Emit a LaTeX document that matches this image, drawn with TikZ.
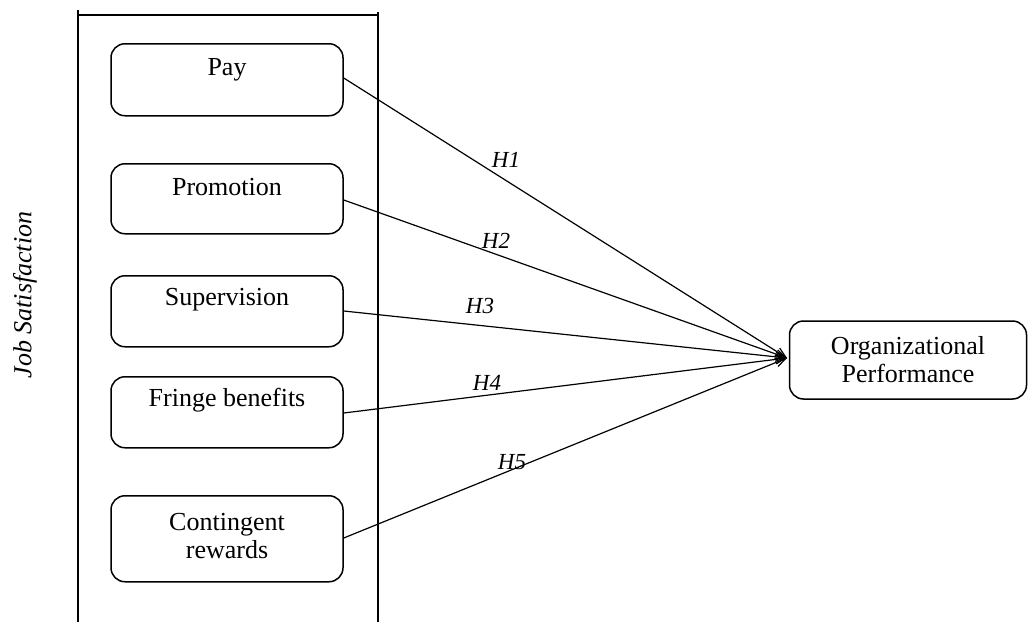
\documentclass[tikz,border=0pt]{standalone}
\usepackage{fontspec}
\setmainfont{Liberation Serif}
\usetikzlibrary{arrows.meta}
\begin{document}
\begin{tikzpicture}[x=1pt,y=-1pt,
  frame/.style={line width=1.5pt},
  varbox/.style={draw,line width=1.5pt,rounded corners=14pt,anchor=north,inner sep=0pt,
     minimum width=232pt,align=center,font=\fontsize{26}{28}\selectfont},
  link/.style={line width=1.2pt,-{Straight Barb[length=10pt,width=9pt,line width=1.2pt]}},
  hlab/.style={font=\fontsize{23}{26}\selectfont\itshape,inner sep=0pt}]
\useasboundingbox (0,0) rectangle (1029,622);
% frame
\coordinate (fl) at (78,10);
\coordinate (fr) at (378,12);
\draw[frame] (fl) -- (78,622);
\draw[frame] (fr) -- (378,622);
\draw[frame] (78,15) -- (378,15);
\node[rotate=90,font=\fontsize{26}{28}\selectfont\itshape] (js) at (25,295) {Job Satisfaction};
% boxes
\node[varbox,text height=32pt,text depth=40pt] (pay) at (227,43) {Pay};
\node[varbox,text height=32pt,text depth=38pt] (pro) at (227,163) {Promotion};
\node[varbox,text height=30pt,text depth=41pt] (sup) at (227,275) {Supervision};
\node[varbox,text height=30pt,text depth=41pt] (fri) at (227,376) {Fringe benefits};
\node[varbox,text height=63pt,text depth=23pt] (con) at (227,495) {Contingent\\rewards};
\node[draw,line width=1.5pt,rounded corners=14pt,minimum width=237pt,minimum height=78pt,
  align=center,inner sep=0pt,font=\fontsize{26}{28}\selectfont] (org) at (908,360)
  {Organizational\\Performance};
\coordinate (tip) at (787,358);
% links
\draw[link] (pay.east |- 0,78) -- (tip);
\draw[link] (pro.east |- 0,200) -- (tip);
\draw[link] (sup.east |- 0,311) -- (tip);
\draw[link] (fri.east |- 0,413) -- (tip);
\draw[link] (con.east |- 0,538) -- (tip);
% labels
\node[hlab] (h1) at (506,160) {H1};
\node[hlab] (h2) at (496,241) {H2};
\node[hlab] (h3) at (480,306) {H3};
\node[hlab] (h4) at (487,383) {H4};
\node[hlab] (h5) at (512,462) {H5};
\end{tikzpicture}
\end{document}
